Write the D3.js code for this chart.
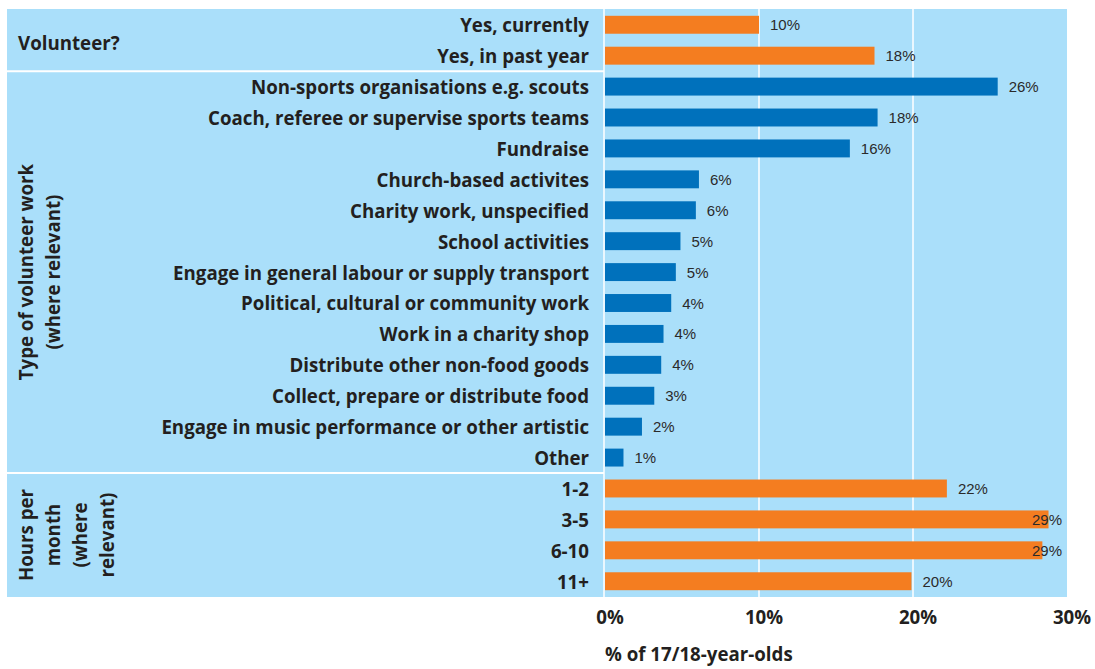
<!DOCTYPE html>
<html>
<head>
<meta charset="utf-8">
<script src="https://cdn.jsdelivr.net/npm/d3@7"></script>
<style>
  html, body { margin: 0; padding: 0; background: #ffffff; }
  svg { display: block; }
</style>
</head>
<body>
<svg id="chart" width="1095" height="669"></svg>
<script>
// ---------- DATA ----------
const categories = [
  "Yes, currently",
  "Yes, in past year",
  "Non-sports organisations e.g. scouts",
  "Coach, referee or supervise sports teams",
  "Fundraise",
  "Church-based activites",
  "Charity work, unspecified",
  "School activities",
  "Engage in general labour or supply transport",
  "Political, cultural or community work",
  "Work in a charity shop",
  "Distribute other non-food goods",
  "Collect, prepare or distribute food",
  "Engage in music performance or other artistic",
  "Other",
  "1-2",
  "3-5",
  "6-10",
  "11+"
];
const values = [10.0, 17.5, 25.5, 17.7, 15.9, 6.1, 5.9, 4.9, 4.6, 4.3, 3.8, 3.65, 3.2, 2.4, 1.2, 22.2, 28.8, 28.4, 19.9];
const valueLabels = ["10%", "18%", "26%", "18%", "16%", "6%", "6%", "5%", "5%", "4%", "4%", "4%", "3%", "2%", "1%", "22%", "29%", "29%", "20%"];
const groupOf = ["vol", "vol", "type", "type", "type", "type", "type", "type", "type", "type", "type", "type", "type", "type", "type", "hours", "hours", "hours", "hours"];
const groups = ["vol", "type", "hours"];
const groupLabels = [["Volunteer?"], ["Type of volunteer work", "(where relevant)"], ["Hours per", "month", "(where", "relevant)"]];
const xTicks = [0, 10, 20, 30];
const xTickLabels = ["0%", "10%", "20%", "30%"];
const axisTitle = "% of 17/18-year-olds";

// ---------- STYLE ----------
const bgColor = "#aadffa";
const orange = "#f47d20";
const blue = "#0071bc";
const textColor = "#231f20";
const labelFont = "'Open Sans', 'Noto Sans', sans-serif";
const valueFont = "'Liberation Sans', Arial, sans-serif";

const svg = d3.select("#chart");

const bgLeft = 7, plotLeft = 605, plotRight = 1067, bgTop = 9, bgBottom = 597;

const x = d3.scaleLinear().domain([0, 30]).range([plotLeft, plotRight]);
const y = d3.scaleBand().domain(categories).range([bgTop, bgBottom]).paddingInner(0.42).paddingOuter(0.22);
const color = d3.scaleOrdinal().domain(groups).range([orange, blue, orange]);

// background
svg.append("rect").attr("x", bgLeft).attr("y", bgTop).attr("width", plotRight - bgLeft).attr("height", bgBottom - bgTop).attr("fill", bgColor);

// gridlines
svg.append("g").selectAll("line").data(xTicks.filter(t => t > 0 && t < 30)).join("line")
  .attr("x1", d => x(d)).attr("x2", d => x(d)).attr("y1", bgTop).attr("y2", bgBottom)
  .attr("stroke", "#ffffff").attr("stroke-width", 1.5);
// left separator
svg.append("line").attr("x1", plotLeft - 1).attr("x2", plotLeft - 1).attr("y1", bgTop).attr("y2", bgBottom)
  .attr("stroke", "#ffffff").attr("stroke-width", 1.5);

// section separators and group extents
const step = y.step();
const gap = step * y.paddingInner() / 2;
const groupExtents = groups.map(g => {
  const cats = categories.filter((c, i) => groupOf[i] === g);
  const first = y(cats[0]), last = y(cats[cats.length - 1]) + y.bandwidth();
  return [first - gap, last + gap];
});
groupExtents[0][0] = bgTop; groupExtents[groupExtents.length - 1][1] = bgBottom;
svg.append("g").selectAll("line").data(groupExtents.slice(1)).join("line")
  .attr("x1", bgLeft).attr("x2", plotLeft - 1).attr("y1", d => d[0]).attr("y2", d => d[0])
  .attr("stroke", "#ffffff").attr("stroke-width", 2);

// bars
svg.append("g").selectAll("rect").data(categories).join("rect")
  .attr("x", x(0)).attr("y", d => y(d))
  .attr("width", (d, i) => x(values[i]) - x(0))
  .attr("height", y.bandwidth())
  .attr("fill", (d, i) => color(groupOf[i]));

// category labels (measure-based sizing)
const catG = svg.append("g");
const catTexts = catG.selectAll("text").data(categories).join("text")
  .attr("x", 589)
  .attr("y", d => y(d) + y.bandwidth() / 2)
  .attr("dy", "0.4em")
  .attr("text-anchor", "end")
  .attr("font-family", labelFont).attr("font-weight", 700)
  .attr("font-size", 18)
  .attr("fill", textColor)
  .text(d => d);
const longest = d3.max(catTexts.nodes(), n => n.getComputedTextLength());
const labelSize = 18 * 428 / longest;
catTexts.attr("font-size", labelSize);

// value labels
svg.append("g").selectAll("text").data(categories).join("text")
  .attr("x", (d, i) => Math.min(x(values[i]) + 11, x(30) - 35))
  .attr("y", d => y(d) + y.bandwidth() / 2 + 5.5)
  .attr("font-family", valueFont).attr("font-size", 15)
  .attr("fill", "#2a2a2a")
  .text((d, i) => valueLabels[i]);

// group labels
groupLabels.forEach((lines, gi) => {
  const [g0, g1] = groupExtents[gi];
  const cy = (g0 + g1) / 2;
  if (lines.length === 1) {
    svg.append("text").attr("x", 18).attr("y", cy + 2).attr("dy", "0.4em")
      .attr("font-family", labelFont).attr("font-weight", 700).attr("font-size", labelSize)
      .attr("fill", textColor).text(lines[0]);
  } else {
    lines.forEach((ln, li) => {
      svg.append("text")
        .attr("transform", `translate(${33 + li * 27},${cy}) rotate(-90)`)
        .attr("text-anchor", "middle")
        .attr("font-family", labelFont).attr("font-weight", 700).attr("font-size", labelSize)
        .attr("fill", textColor).text(ln);
    });
  }
});

// x tick labels
svg.append("g").selectAll("text").data(xTicks).join("text")
  .attr("x", d => x(d) + 5).attr("y", 624)
  .attr("text-anchor", "middle")
  .attr("font-family", labelFont).attr("font-weight", 700).attr("font-size", labelSize)
  .attr("fill", textColor)
  .text((d, i) => xTickLabels[i]);

// axis title
svg.append("text").attr("x", plotLeft).attr("y", 661)
  .attr("font-family", labelFont).attr("font-weight", 700).attr("font-size", labelSize)
  .attr("fill", textColor).text(axisTitle);
</script>
</body>
</html>
